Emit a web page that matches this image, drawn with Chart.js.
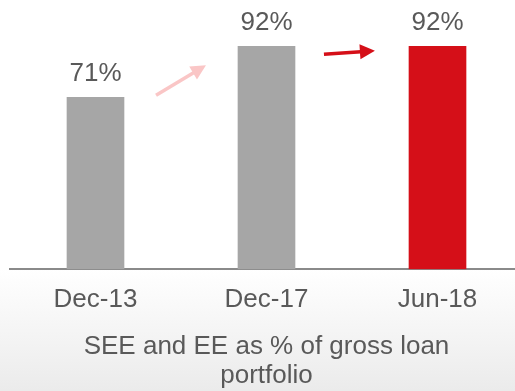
<!DOCTYPE html>
<html>
<head>
<meta charset="utf-8">
<script src="https://cdn.jsdelivr.net/npm/chart.js@4/dist/chart.umd.min.js"></script>
<style>
  html, body { margin: 0; padding: 0; background: #ffffff; overflow: hidden; }
  #wrap { width: 515px; height: 391px; overflow: hidden; position: relative; }
  canvas { display: block; }
</style>
</head>
<body>
<div id="wrap"><canvas id="c" width="523" height="391"></canvas></div>
<script>
// Share of SEE and EE in the gross loan portfolio
const categories = ['Dec-13', 'Dec-17', 'Jun-18'];
const shareValues = [71, 92, 92];
const titleLines = ['SEE and EE as % of gross loan', 'portfolio'];

const GREY = '#a6a6a6';
const RED = '#d50f18';
const TEXT = '#595959';
const FONT = "'Liberation Sans', Arial, sans-serif";

// Trend arrows between the bars, in (category index, percent) units
const trendArrows = [
  { from: [0.354, 71.8], to: [0.646, 84.2], color: '#fac6c6' },
  { from: [1.336, 88.8], to: [1.634, 90.2], color: '#d50f18' }
];

const backdrop = {
  id: 'backdrop',
  beforeDraw(chart) {
    const { ctx, chartArea, width, height } = chart;
    ctx.save();
    ctx.fillStyle = '#ffffff';
    ctx.fillRect(0, 0, width, height);
    const g = ctx.createLinearGradient(0, chartArea.bottom, 0, height);
    g.addColorStop(0, '#ffffff');
    g.addColorStop(1, '#ebebeb');
    ctx.fillStyle = g;
    ctx.fillRect(0, chartArea.bottom, width, height - chartArea.bottom);
    ctx.restore();
  }
};

const valueLabels = {
  id: 'valueLabels',
  afterDatasetsDraw(chart) {
    const { ctx } = chart;
    const meta = chart.getDatasetMeta(0);
    ctx.save();
    ctx.font = '26px ' + FONT;
    ctx.fillStyle = TEXT;
    ctx.textAlign = 'center';
    ctx.textBaseline = 'alphabetic';
    meta.data.forEach((bar, i) => {
      ctx.fillText(shareValues[i] + '%', bar.x, bar.y - 16);
    });
    ctx.restore();
  }
};

const arrows = {
  id: 'arrows',
  afterDatasetsDraw(chart) {
    const { ctx, scales: { x, y } } = chart;
    ctx.save();
    trendArrows.forEach(a => {
      const x1 = x.getPixelForValue(a.from[0]), y1 = y.getPixelForValue(a.from[1]);
      const x2 = x.getPixelForValue(a.to[0]), y2 = y.getPixelForValue(a.to[1]);
      const ang = Math.atan2(y2 - y1, x2 - x1);
      const headLen = 15, headHalf = 7.5;
      const bx = x2 - headLen * Math.cos(ang), by = y2 - headLen * Math.sin(ang);
      ctx.strokeStyle = a.color;
      ctx.fillStyle = a.color;
      ctx.lineWidth = 3.5;
      ctx.beginPath();
      ctx.moveTo(x1, y1);
      ctx.lineTo(bx + Math.cos(ang), by + Math.sin(ang));
      ctx.stroke();
      ctx.beginPath();
      ctx.moveTo(x2, y2);
      ctx.lineTo(bx + headHalf * Math.sin(ang), by - headHalf * Math.cos(ang));
      ctx.lineTo(bx - headHalf * Math.sin(ang), by + headHalf * Math.cos(ang));
      ctx.closePath();
      ctx.fill();
    });
    ctx.restore();
  }
};

new Chart(document.getElementById('c'), {
  type: 'bar',
  data: {
    labels: categories,
    datasets: [{
      data: shareValues,
      backgroundColor: shareValues.map((_, i) => i === shareValues.length - 1 ? RED : GREY),
      borderWidth: 0,
      barThickness: 57
    }]
  },
  options: {
    responsive: false,
    animation: false,
    devicePixelRatio: 1,
    layout: { padding: { top: 27, left: 10, right: 0, bottom: 0 } },
    plugins: {
      legend: { display: false },
      tooltip: { enabled: false }
    },
    scales: {
      y: {
        display: false,
        min: 0,
        max: 100
      },
      x: {
        grid: { display: false, drawTicks: false },
        border: { display: true, color: '#8a8a8a', width: 2 },
        ticks: {
          color: TEXT,
          padding: 15,
          font: { family: FONT, size: 26, lineHeight: 1.2 }
        },
        title: {
          display: true,
          text: titleLines,
          color: TEXT,
          font: { family: FONT, size: 26, lineHeight: 1.135 },
          padding: { top: 1.5, bottom: 0 }
        }
      }
    }
  },
  plugins: [backdrop, valueLabels, arrows]
});
</script>
</body>
</html>
